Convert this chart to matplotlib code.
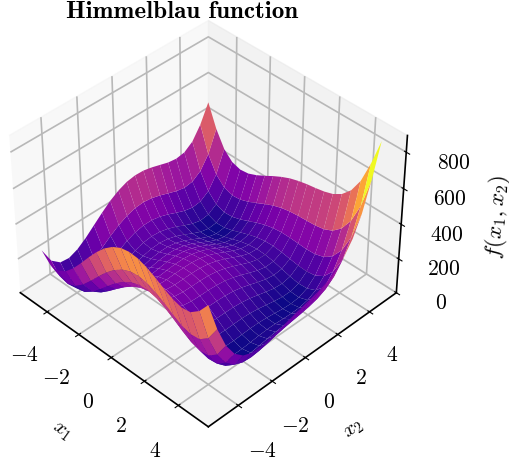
#!/usr/bin/env python3
import numpy as np
import matplotlib
matplotlib.use('Agg')
import matplotlib.pyplot as plt

plt.rcParams['mathtext.fontset'] = 'cm'
plt.rcParams['font.family'] = ['cmr10', 'DejaVu Serif']
plt.rcParams['axes.unicode_minus'] = False

x1 = [-5, -4.5, -4, -3.5, -3, -2.5, -2, -1.5, -1, -0.5, 0, 0.5, 1, 1.5, 2, 2.5, 3, 3.5, 4, 4.5, 5]
x2 = [-5, -4.5, -4, -3.5, -3, -2.5, -2, -1.5, -1, -0.5, 0, 0.5, 1, 1.5, 2, 2.5, 3, 3.5, 4, 4.5, 5]

# surface heights, one row per x2 value, one column per x1 value
f_vals = [
    [250, 200, 196, 224, 274, 335, 400, 461, 514, 554, 580, 590, 586, 569, 544, 515, 490, 476, 484, 524, 590],
    [158, 99, 86, 106, 147, 201, 259, 314, 360, 395, 416, 422, 413, 393, 365, 334, 306, 292, 298, 338, 423],
    [116, 48, 26, 38, 72, 119, 170, 219, 260, 290, 306, 308, 296, 273, 242, 209, 180, 164, 170, 210, 296],
    [110, 34, 4, 8, 35, 76, 121, 164, 200, 226, 238, 236, 221, 196, 163, 128, 98, 82, 88, 128, 215],
    [130, 45, 8, 5, 26, 60, 100, 138, 170, 191, 200, 195, 178, 150, 116, 80, 50, 33, 40, 81, 170],
    [165, 73, 29, 20, 34, 63, 98, 132, 159, 177, 183, 176, 156, 127, 92, 56, 25, 9, 17, 60, 150],
    [208, 109, 58, 43, 52, 76, 106, 136, 160, 175, 178, 169, 148, 118, 82, 46, 16, 1, 10, 55, 148],
    [251, 146, 89, 68, 72, 92, 118, 144, 165, 178, 179, 168, 146, 116, 80, 44, 15, 2, 13, 60, 156],
    [290, 178, 116, 90, 90, 105, 128, 151, 170, 180, 180, 168, 146, 115, 80, 45, 18, 6, 20, 70, 170],
    [320, 203, 136, 106, 101, 113, 133, 154, 170, 179, 178, 166, 143, 113, 79, 46, 20, 11, 28, 82, 185],
    [340, 218, 146, 112, 104, 113, 130, 149, 164, 172, 170, 158, 136, 107, 74, 43, 20, 14, 34, 92, 200],
    [348, 222, 146, 108, 97, 104, 119, 136, 150, 158, 156, 144, 123, 96, 65, 36, 16, 14, 38, 100, 213],
    [346, 215, 136, 95, 82, 86, 100, 116, 130, 137, 136, 125, 106, 80, 52, 26, 10, 11, 40, 107, 226],
    [335, 201, 119, 76, 60, 63, 76, 92, 105, 113, 113, 104, 86, 63, 38, 16, 3, 9, 43, 116, 240],
    [320, 183, 98, 53, 36, 38, 50, 66, 80, 89, 90, 83, 68, 48, 26, 8, 0, 11, 50, 129, 260],
    [305, 166, 79, 32, 14, 16, 28, 44, 59, 70, 73, 68, 56, 40, 22, 8, 5, 22, 67, 152, 290],
    [298, 156, 68, 20, 2, 3, 16, 33, 50, 62, 68, 66, 58, 45, 32, 23, 26, 48, 100, 192, 338],
    [306, 163, 74, 26, 7, 9, 23, 42, 60, 75, 84, 86, 81, 73, 65, 62, 70, 99, 158, 258, 411],
    [340, 196, 106, 58, 40, 43, 58, 79, 100, 118, 130, 136, 136, 133, 130, 133, 148, 184, 250, 358, 520],
    [410, 266, 176, 128, 111, 116, 133, 156, 180, 202, 218, 228, 233, 236, 239, 248, 270, 314, 388, 504, 675],
    [510, 385, 296, 249, 234, 240, 260, 286, 314, 339, 360, 375, 386, 394, 404, 420, 450, 501, 584, 709, 860],
]

xy_ticks = [-4, -2, 0, 2, 4]
z_ticks = [0, 200, 400, 600, 800]

X, Y = np.meshgrid(x1, x2)
Z = np.array(f_vals, dtype=float)

fig = plt.figure(figsize=(5.09, 4.6), dpi=100)
ax = fig.add_axes([-0.037, 0.053, 0.87, 0.924], projection='3d')
ax.plot_surface(X, Y, Z, cmap='plasma', rstride=1, cstride=1, linewidth=0, antialiased=True)

ax.view_init(elev=40, azim=-45)
ax.set_xticks(xy_ticks)
ax.set_yticks(xy_ticks)
ax.set_zticks(z_ticks)
ax.set_xticklabels([f'${t}$' for t in xy_ticks], fontsize=15.5)
ax.set_yticklabels([f'${t}$' for t in xy_ticks], fontsize=15.5)
ax.set_zticklabels([f'${t}$' for t in z_ticks], fontsize=15.5)
ax.set_zlim(0, 890)
ax.tick_params(axis='x', pad=11)
ax.tick_params(axis='y', pad=11)
ax.tick_params(axis='z', pad=11)
ax.set_xlabel('$x_1$', fontsize=15, labelpad=20)
ax.set_ylabel('$x_2$', fontsize=15, labelpad=19)
ax.set_zlabel('$f(x_1, x_2)$', fontsize=16.5, labelpad=18.5)

for axis in (ax.xaxis, ax.yaxis, ax.zaxis):
    axis.line.set_color('black')
    axis.line.set_linewidth(1.2)
    axis._axinfo['grid']['color'] = '#b8b8b8'
    axis._axinfo['grid']['linewidth'] = 1.2
    axis._axinfo['tick']['color'] = 'black'

fig.text(0.357, 0.975, 'Himmelblau function', family='cmb10', fontsize=18,
         ha='center', va='center')

plt.savefig('out.png', dpi=100)
